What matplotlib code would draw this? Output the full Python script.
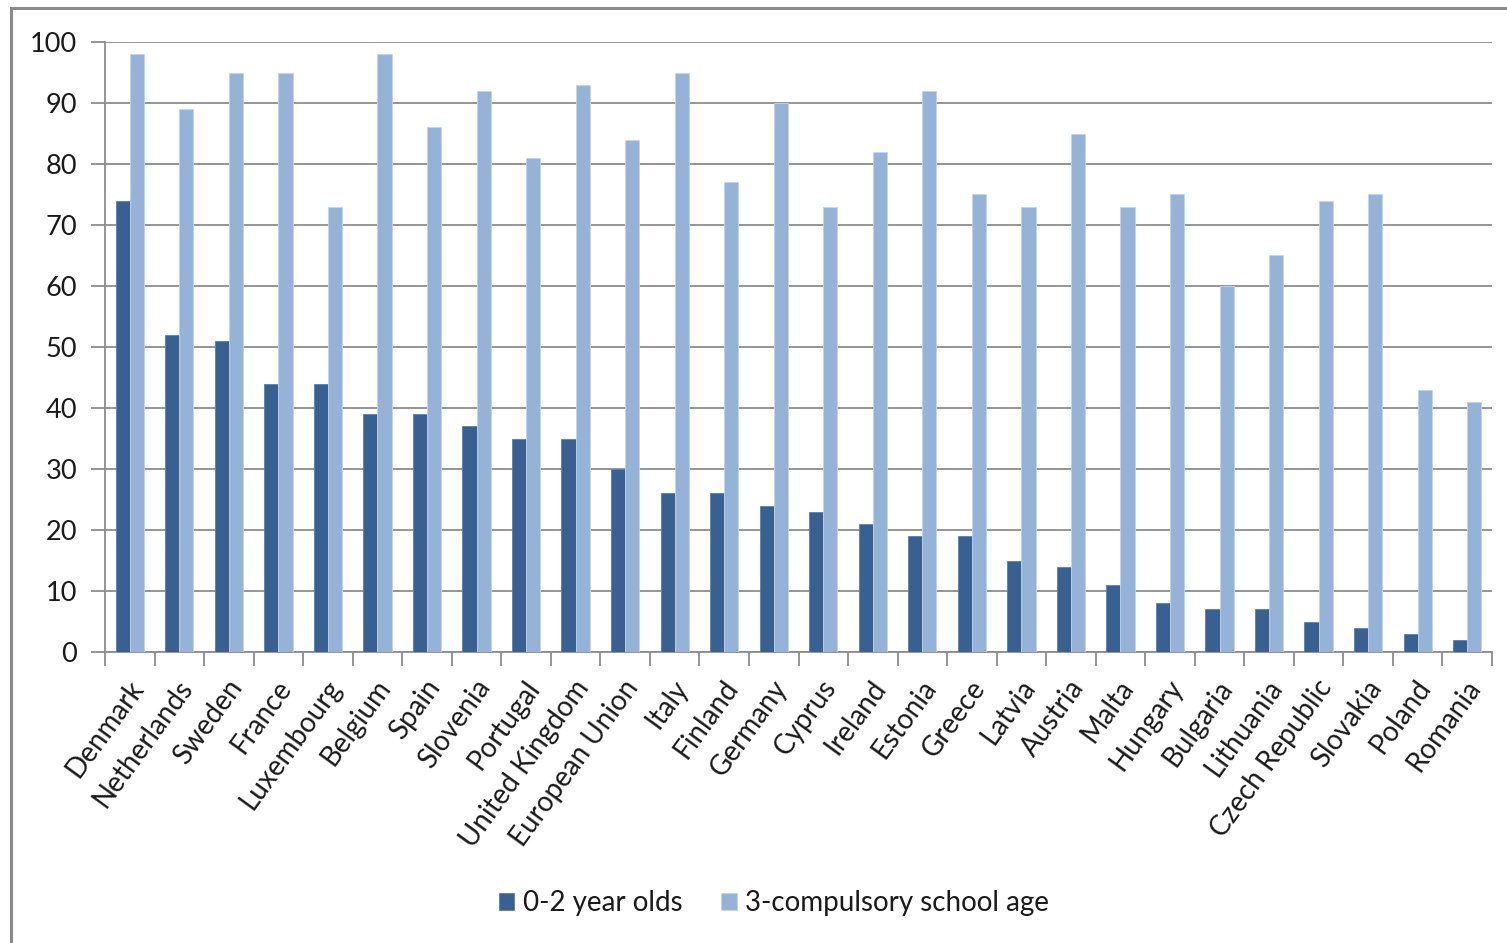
import numpy as np
import matplotlib
matplotlib.use("Agg")
import matplotlib.pyplot as plt
from matplotlib.patches import Rectangle
from matplotlib.ticker import FixedLocator, NullFormatter

plt.rcParams['font.family'] = ['Lato', 'DejaVu Sans']

countries = ["Denmark", "Netherlands", "Sweden", "France", "Luxembourg", "Belgium",
             "Spain", "Slovenia", "Portugal", "United Kingdom", "European Union",
             "Italy", "Finland", "Germany", "Cyprus", "Ireland", "Estonia", "Greece",
             "Latvia", "Austria", "Malta", "Hungary", "Bulgaria", "Lithuania",
             "Czech Republic", "Slovakia", "Poland", "Romania"]
age_0_2 = [74, 52, 51, 44, 44, 39, 39, 37, 35, 35, 30, 26, 26, 24, 23, 21, 19, 19,
           15, 14, 11, 8, 7, 7, 5, 4, 3, 2]
age_3_school = [98, 89, 95, 95, 73, 98, 86, 92, 81, 93, 84, 95, 77, 90, 73, 82, 92, 75,
                73, 85, 73, 75, 60, 65, 74, 75, 43, 41]
series_labels = ["0-2 year olds", "3-compulsory school age"]
y_ticks = [0, 10, 20, 30, 40, 50, 60, 70, 80, 90, 100]

dark = "#386192"
light = "#95b3d7"
grid_col = "#8c8c8c"
text_col = "#1a1a1a"

W, H = 1507, 943
fig = plt.figure(figsize=(W / 100, H / 100), dpi=100)

# chart frame (only top and left edges fall inside the canvas)
fig.patches.append(Rectangle((11 / W, -0.1), 1.2, (H - 8) / H + 0.1,
                             transform=fig.transFigure, fill=False,
                             edgecolor="#8a8a8a", linewidth=2.2, zorder=0))

ax = fig.add_axes([105 / W, 1 - 652 / H, (1492 - 105) / W, (652 - 42) / H])

x = np.arange(len(countries))
bw = 1 / 3.5
ax.bar(x - bw / 2, age_0_2, width=bw, color=dark, edgecolor="#5a7fae",
       linewidth=0.6, label=series_labels[0], zorder=3)
ax.bar(x + bw / 2, age_3_school, width=bw, color=light, edgecolor="#c4d5ea",
       linewidth=0.6, label=series_labels[1], zorder=3)

ax.set_xlim(-0.5, len(countries) - 0.5)
ax.set_ylim(0, 100)
ax.set_yticks(y_ticks)
ax.yaxis.grid(True, color=grid_col, linewidth=1.3, zorder=0)
ax.set_axisbelow(True)

for s in ["top", "right"]:
    ax.spines[s].set_visible(False)
for s in ["left", "bottom"]:
    ax.spines[s].set_color(grid_col)
    ax.spines[s].set_linewidth(1.3)

ax.tick_params(axis="y", length=10, width=1.3, color=grid_col,
               labelsize=19.5, labelcolor=text_col, pad=10)
ax.xaxis.set_major_locator(FixedLocator(np.arange(len(countries) + 1) - 0.5))
ax.xaxis.set_major_formatter(NullFormatter())
ax.tick_params(axis="x", length=10, width=1.3, color=grid_col)

for xi, name in zip(x, countries):
    ax.text(xi - 0.05, -3.8, name, rotation=54, ha="right", va="top",
            rotation_mode="anchor", fontsize=20, color=text_col,
            transform=ax.transData, clip_on=False)

leg = fig.legend(loc="center", bbox_to_anchor=(774 / W, 1 - 903 / H), ncol=2,
                 frameon=False, fontsize=20, handlelength=0.55, handleheight=0.55,
                 handletextpad=0.3, columnspacing=1.4)
for t in leg.get_texts():
    t.set_color(text_col)

fig.savefig("out.png", dpi=100, facecolor="white")
